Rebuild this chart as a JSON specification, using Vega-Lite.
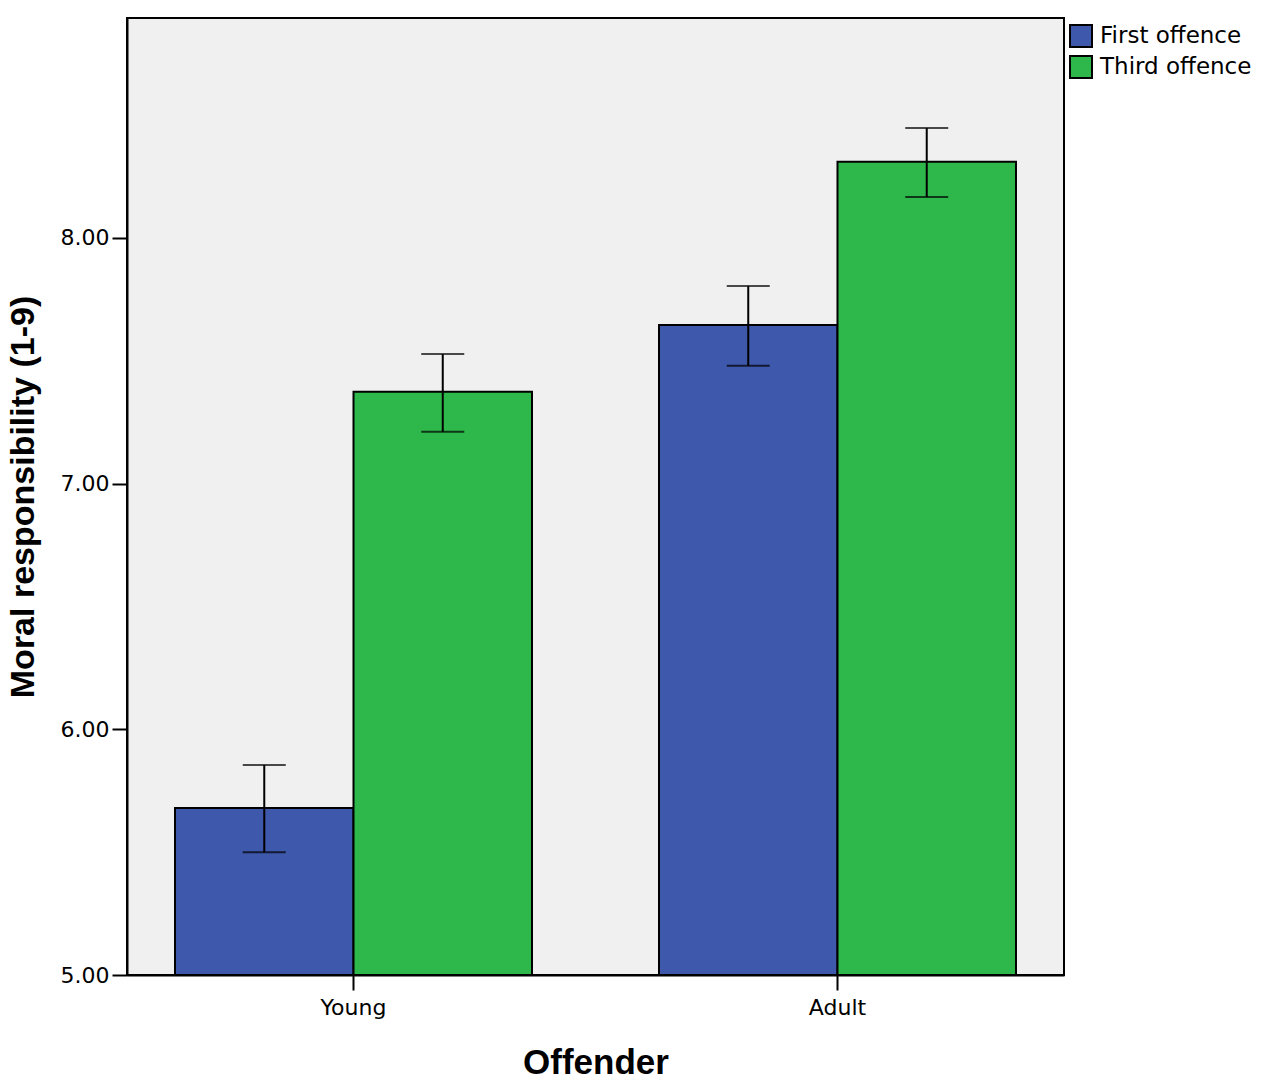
{
  "$schema": "https://vega.github.io/schema/vega-lite/v6.json",
  "autosize": {"type": "none"},
  "padding": {"left": 127, "top": 18, "right": 203, "bottom": 117},
  "width": 937,
  "height": 957,
  "background": "white",
  "config": {
    "font": "DejaVu Sans",
    "view": {"fill": "#f0f0f0", "stroke": "black", "strokeWidth": 2},
    "axis": {"grid": false, "domainColor": "black", "tickColor": "black", "labelColor": "black", "titleColor": "black", "domainWidth": 2, "tickWidth": 2, "titleFont": "Liberation Sans"}
  },
  "data": {
    "values": [
      {"Offender": "Young", "Offence": "First offence", "mean": 5.68, "lo": 5.50, "hi": 5.855},
      {"Offender": "Young", "Offence": "Third offence", "mean": 7.374, "lo": 7.211, "hi": 7.527},
      {"Offender": "Adult", "Offence": "First offence", "mean": 7.646, "lo": 7.48, "hi": 7.804},
      {"Offender": "Adult", "Offence": "Third offence", "mean": 8.31, "lo": 8.166, "hi": 8.447}
    ]
  },
  "encoding": {
    "x": {
      "field": "Offender",
      "type": "nominal",
      "sort": ["Young", "Adult"],
      "scale": {"paddingInner": 0.2624, "paddingOuter": 0.0992},
      "axis": {"title": "Offender", "labelAngle": 0, "labelFontSize": 22, "tickSize": 15, "labelPadding": 7, "titleFontSize": 35, "titleFontWeight": "bold", "titlePadding": 27}
    },
    "xOffset": {"field": "Offence", "type": "nominal", "scale": {"paddingInner": 0, "paddingOuter": 0}}
  },
  "layer": [
    {
      "mark": {"type": "bar", "stroke": "black", "strokeWidth": 2},
      "encoding": {
        "y": {
          "field": "mean",
          "type": "quantitative",
          "scale": {"domain": [5, 8.895], "zero": false, "nice": false},
          "axis": {"title": "Moral responsibility (1-9)", "values": [5, 6, 7, 8], "format": ".2f", "labelFontSize": 22, "tickSize": 15, "labelPadding": 3, "titleFontSize": 34, "titleFontWeight": "bold", "titlePadding": 20}
        },
        "y2": {"datum": 5},
        "color": {
          "field": "Offence",
          "type": "nominal",
          "scale": {"domain": ["First offence", "Third offence"], "range": ["#3e58ab", "#2eb84b"]},
          "legend": {
            "title": null,
            "orient": "none",
            "legendX": 942,
            "legendY": 6,
            "symbolType": "square",
            "symbolSize": 484,
            "symbolStrokeColor": "black",
            "symbolStrokeWidth": 2,
            "symbolOpacity": 1,
            "labelFont": "DejaVu Sans",
            "labelFontSize": 23,
            "labelColor": "black",
            "labelOffset": 7,
            "rowPadding": 1
          }
        }
      }
    },
    {
      "mark": {"type": "rule", "color": "black", "strokeWidth": 2},
      "encoding": {
        "y": {"field": "lo", "type": "quantitative"},
        "y2": {"field": "hi"}
      }
    },
    {
      "mark": {"type": "tick", "color": "black", "thickness": 2, "size": 43},
      "encoding": {
        "y": {"field": "lo", "type": "quantitative"}
      }
    },
    {
      "mark": {"type": "tick", "color": "black", "thickness": 2, "size": 43},
      "encoding": {
        "y": {"field": "hi", "type": "quantitative"}
      }
    }
  ]
}
